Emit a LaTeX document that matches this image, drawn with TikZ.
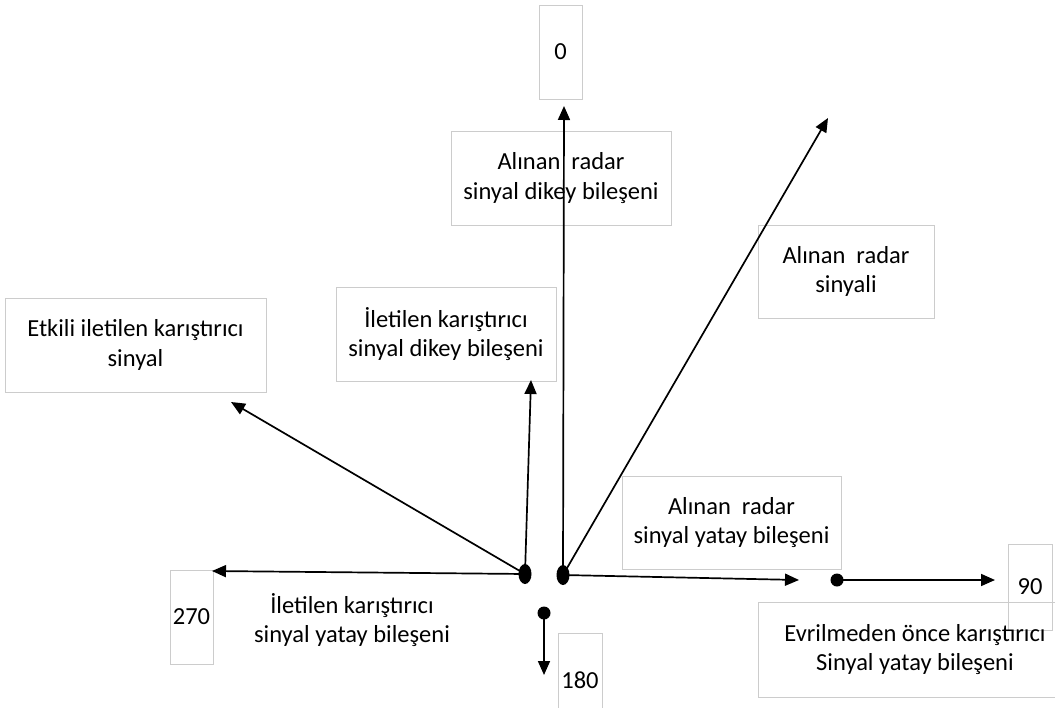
\documentclass[tikz,border=0pt]{standalone}
\usepackage{fontspec}
\setmainfont{Carlito}
\usetikzlibrary{arrows.meta,shapes.geometric}
\begin{document}
\begin{tikzpicture}[x=1pt,y=-1pt,
  every node/.style={font=\fontsize{24.5}{29.5}\selectfont, inner sep=0pt, align=center},
  tbox/.style={draw=black!20, line width=0.9pt, text=black},
  plain/.style={text=black},
  dotE/.style={ellipse, fill=black, minimum width=13pt, minimum height=20pt},
  dotC/.style={circle, fill=black, minimum size=13pt},
  arr/.style={line width=1.7pt, -{Triangle[length=14pt,width=12pt]}}]
\useasboundingbox (0,0) rectangle (1055,707);
\clip (0,0) rectangle (1055,707);
\fill[white] (0,0) rectangle (1055,707);
% boxes
\node[tbox, minimum width=43pt, minimum height=94pt] (zero) at (560.5,52) {0};
\node[tbox, minimum width=220pt, minimum height=94pt] (top) at (561,178) {Alınan\ \ radar\\sinyal dikey bileşeni};
\node[tbox, minimum width=176pt, minimum height=93pt] (rsig) at (846,271.5) {Alınan\ \ radar\\sinyali};
\node[tbox, minimum width=261pt, minimum height=94pt] (etk) at (135.5,345) {Etkili iletilen karıştırıcı\\sinyal};
\node[tbox, minimum width=220pt, minimum height=94pt] (idk) at (446,334) {İletilen karıştırıcı\\sinyal dikey bileşeni};
\node[tbox, minimum width=43pt, minimum height=94pt] (b270) at (191.5,617) {270};
\node[plain] (iya) at (352,620) {İletilen karıştırıcı\\sinyal yatay bileşeni};
\node[tbox, minimum width=219pt, minimum height=93pt] (rya) at (731.5,522.5) {Alınan\ \ radar\\sinyal yatay bileşeni};
\node[tbox, minimum width=44pt, minimum height=86pt] (b90) at (1030,587) {90};
\node[tbox, minimum width=314pt, minimum height=95pt] (evr) at (915,649.5) {Evrilmeden önce karıştırıcı\\Sinyal yatay bileşeni};
\node[tbox, minimum width=44pt, minimum height=94pt] (b180) at (580,680) {180};
% dots
\node[dotE] (ld) at (525,574) {};
\node[dotE] (rd) at (563,575) {};
\node[dotC] (md) at (837,580) {};
\node[dotC] (bd) at (544,613) {};
% arrow ends
\coordinate (tv) at (564,106);
\coordinate (td) at (828,118);
\coordinate (tr) at (799,580);
\coordinate (tl) at (212,571);
\coordinate (tu) at (531,380);
\coordinate (te) at (231,402);
\coordinate (t90) at (995,580);
\coordinate (tb) at (544,675);
% arrows
\draw[arr] (rd.center) -- (tv);
\draw[arr] (rd.center) -- (td);
\draw[arr] (rd.center) -- (tr);
\draw[arr] (ld.center) -- (tl);
\draw[arr] (ld.center) -- (tu);
\draw[arr] (ld.center) -- (te);
\draw[arr] (md.center) -- (t90);
\draw[arr] (bd.center) -- (tb);
\end{tikzpicture}
\end{document}
